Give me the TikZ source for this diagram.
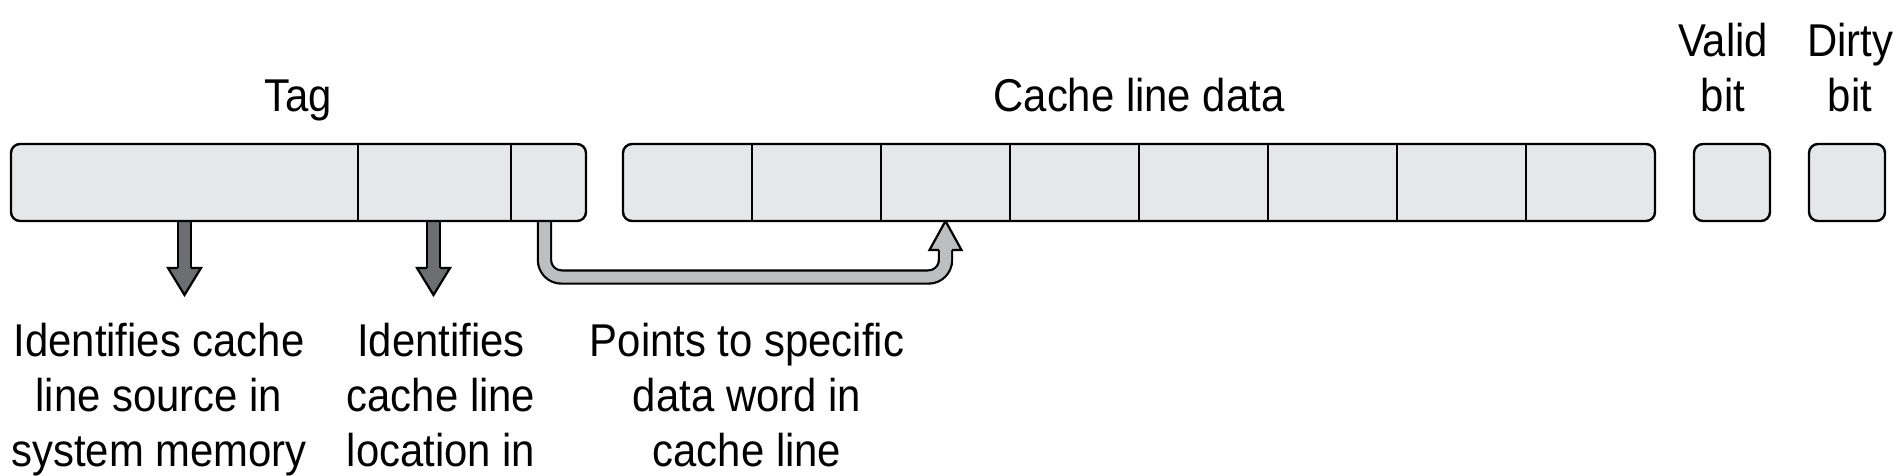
\documentclass[tikz,border=0pt]{standalone}
\usepackage{fontspec}
\setmainfont{Liberation Sans}[FakeStretch=0.91]
\usetikzlibrary{calc}
\definecolor{cellgray}{HTML}{E6E7E8}
\definecolor{darkarrow}{HTML}{6D6E71}
\definecolor{lightarrow}{HTML}{BCBEC0}
\begin{document}
\begin{tikzpicture}[x=1pt,y=-1pt,
  cell/.style={minimum height=77pt, inner sep=0pt, outer sep=0pt, anchor=north west},
  frame/.style={draw=black, line width=2.4pt, fill=cellgray, rounded corners=9pt},
  divider/.style={draw=black, line width=2.4pt},
  lbl/.style={font=\fontsize{46}{55}\selectfont, align=center, anchor=base, inner sep=0pt},
  shaftdark/.style={draw=black, line width=2.2pt, double=darkarrow, double distance=11pt},
  shaftlight/.style={draw=black, line width=2.2pt, double=lightarrow, double distance=11pt, rounded corners=17pt},
  headline/.style={draw=black, line width=2.2pt, line join=miter},
]
\useasboundingbox (0,0) rectangle (1904,476);
% cells
\node[cell, minimum width=347pt] (tag1) at (11,144) {};
\node[cell, minimum width=153pt] (tag2) at (358,144) {};
\node[cell, minimum width=75pt] (tag3) at (511,144) {};
\foreach \i in {1,...,8}{
  \node[cell, minimum width=129pt] (d\i) at ({623+129*(\i-1)},144) {};
}
% labels (base anchor = baseline of the last line)
\node[lbl] (tagl) at (298,112) {Tag};
\node[lbl] (datal) at (1139,112) {Cache line data};
\node[lbl] (validl) at (1723,112) {Valid\\bit};
\node[lbl] (dirtyl) at (1850,112) {Dirty\\bit};
\node[lbl] (txt1) at (159,466) {Identifies cache\\line source in\\system memory};
\node[lbl] (txt2) at (441,466) {Identifies\\cache line\\location in};
\node[lbl] (txt3) at (747,466) {Points to specific\\data word in\\cache line};
% down arrows
\coordinate (tip1) at ($(tag1.south)+(0,74)$);
\coordinate (tip2) at ($(tag2.south)+(-1,74)$);
\foreach \t/\s in {tip1/tag1, tip2/tag2}{
  \draw[shaftdark] (\s.south -| \t) -- ($(\t)+(0,-27)$);
  \fill[darkarrow] ($(\t)+(-16.5,-27)$) -- (\t) -- ($(\t)+(16.5,-27)$) -- cycle;
  \draw[headline] ($(\t)+(-6.6,-27)$) -- ($(\t)+(-16.5,-27)$) -- (\t) -- ($(\t)+(16.5,-27)$) -- ($(\t)+(6.6,-27)$);
}
% bent arrow
\coordinate (bstart) at ($(tag3.south)+(-4,0)$);
\draw[shaftlight] (bstart) -- ($(bstart)+(0,56)$) -- ($(d3.south)+(0,56)$) -- ($(d3.south)+(0,29)$);
\fill[lightarrow] ($(d3.south)+(-16,29)$) -- (d3.south) -- ($(d3.south)+(16,29)$) -- cycle;
\draw[headline] ($(d3.south)+(-6.6,29)$) -- ($(d3.south)+(-16,29)$) -- (d3.south) -- ($(d3.south)+(16,29)$) -- ($(d3.south)+(6.6,29)$);
% frames
\draw[frame] (tag1.north west) rectangle (tag3.south east);
\draw[divider] (tag1.north east) -- (tag1.south east);
\draw[divider] (tag2.north east) -- (tag2.south east);
\draw[frame] (d1.north west) rectangle (d8.south east);
\foreach \i in {1,...,7}{
  \draw[divider] (d\i.north east) -- (d\i.south east);
}
\node[cell, minimum width=76pt, frame] (valid) at (1694,144) {};
\node[cell, minimum width=76pt, frame] (dirty) at (1809,144) {};
\end{tikzpicture}
\end{document}
